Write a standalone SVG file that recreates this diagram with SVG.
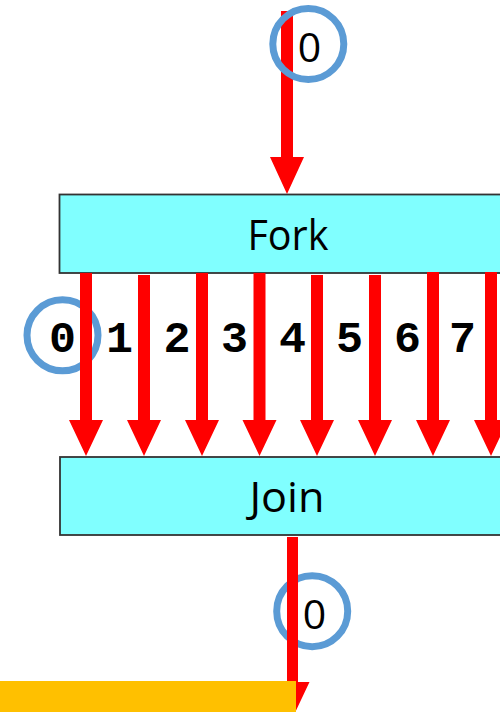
<svg xmlns="http://www.w3.org/2000/svg" width="500" height="712" viewBox="0 0 500 712">
<style>
.box{fill:#80FFFF;stroke:#333333;stroke-width:1.8}
.lbl{font-family:"Open Sans","Noto Sans","Liberation Sans",sans-serif;font-size:42px;fill:#000;text-anchor:middle}
.num{font-family:"Liberation Mono","Courier New",monospace;font-weight:bold;font-size:45px;fill:#000;text-anchor:middle}
.zero{font-family:"Open Sans","Noto Sans","Liberation Sans",sans-serif;font-size:41px;fill:#000;text-anchor:middle}
.ring{fill:none;stroke:#5B9BD5;stroke-width:7}
.arr{fill:#FF0000}
</style>
<rect x="0" y="0" width="500" height="712" fill="#FFFFFF"/>
<g id="fork"><rect class="box" x="59.5" y="194.5" width="460" height="78.5"/><text class="lbl" x="288" y="250" textLength="81" lengthAdjust="spacingAndGlyphs">Fork</text></g>
<g id="join"><rect class="box" x="60" y="457" width="460" height="78"/><text class="lbl" x="287" y="512" textLength="75" lengthAdjust="spacingAndGlyphs">Join</text></g>
<g id="ring-left"><circle class="ring" cx="62.5" cy="335.3" r="35.5"/></g>
<g id="ring-bottom"><circle class="ring" cx="312.2" cy="611.2" r="35.5"/></g>
<g id="connectors">
<polygon class="arr" points="281,11 293,11 293,157 304,157 287,194 270,157 281,157"/>
<polygon class="arr" points="80,273 92,273 92,420 103,420 86,456 69,420 80,420"/>
<polygon class="arr" points="138,275 150,275 150,420 161,420 144,456 127,420 138,420"/>
<polygon class="arr" points="196,273 208,273 208,420 219,420 202,456 185,420 196,420"/>
<polygon class="arr" points="253.5,273 265.5,273 265.5,420 276.5,420 259.5,456 242.5,420 253.5,420"/>
<polygon class="arr" points="311,275 323,275 323,420 334,420 317,456 300,420 311,420"/>
<polygon class="arr" points="369,275 381,275 381,420 392,420 375,456 358,420 369,420"/>
<polygon class="arr" points="427,272 439,272 439,420 450,420 433,456 416,420 427,420"/>
<polygon class="arr" points="485,272 497,272 497,420 508,420 491,456 474,420 485,420"/>
<polygon class="arr" points="287,537 298,537 298,682 309.5,682 292.5,718 275.5,682 287,682"/>
</g>
<g id="output-bar"><rect x="0" y="681" width="296" height="31" fill="#FFC000"/></g>
<g id="ring-top"><circle class="ring" cx="308.3" cy="44" r="35.5"/><text class="zero" x="309.5" y="62">0</text></g>
<g id="labels">
<text class="num" x="62.5" y="352">0</text>
<text class="num" x="119.5" y="352">1</text>
<text class="num" x="177" y="352">2</text>
<text class="num" x="234.5" y="352">3</text>
<text class="num" x="292.5" y="352">4</text>
<text class="num" x="349.5" y="352">5</text>
<text class="num" x="407.5" y="352">6</text>
<text class="num" x="462.5" y="352">7</text>
<text class="zero" x="314.5" y="629">0</text>
</g>
</svg>
